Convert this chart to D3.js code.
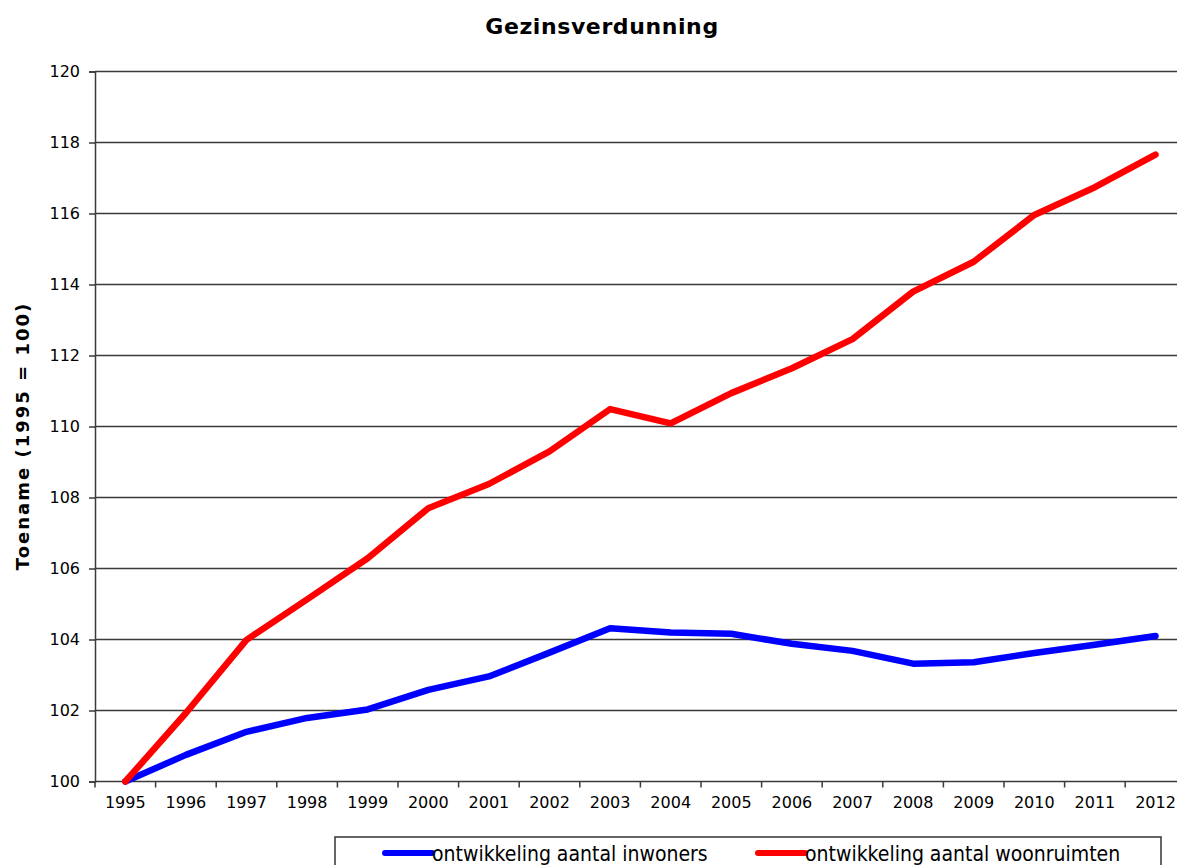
<!DOCTYPE html>
<html>
<head>
<meta charset="utf-8">
<script src="https://cdn.jsdelivr.net/npm/d3@7"></script>
<style>
  html, body { margin: 0; padding: 0; background: #fff; }
  svg { display: block; }
</style>
</head>
<body>
<svg id="chart" width="1177" height="865"></svg>
<script>
const years = ["1995","1996","1997","1998","1999","2000","2001","2002","2003","2004","2005","2006","2007","2008","2009","2010","2011","2012"];
const inwoners = [100, 100.75, 101.4, 101.79, 102.03, 102.58, 102.96, 103.63, 104.32, 104.2, 104.16, 103.88, 103.68, 103.32, 103.36, 103.62, 103.85, 104.1];
const woonruimten = [100, 101.93, 103.99, 105.13, 106.29, 107.7, 108.38, 109.3, 110.49, 110.09, 110.94, 111.64, 112.46, 113.8, 114.64, 115.96, 116.74, 117.66];
const yTicks = [100, 102, 104, 106, 108, 110, 112, 114, 116, 118, 120];
const seriesNames = ["ontwikkeling aantal inwoners", "ontwikkeling aantal woonruimten"];
const seriesColors = ["#0000ff", "#ff0000"];
const chartTitle = "Gezinsverdunning";
const yTitle = "Toename (1995 = 100)";

(function () {
const svg = d3.select("#chart");
const pLeft = 95, pTop = 71.5, pBottom = 781.5, bandW = 60.6;
const x = d3.scaleBand().domain(years).range([pLeft, pLeft + bandW * years.length]).padding(0);
const y = d3.scaleLinear().domain([100, 120]).range([pBottom, pTop]);
const font = "'DejaVu Sans', Verdana, sans-serif";

// gridlines
svg.append("g").selectAll("line").data(yTicks.filter(d => d > 100)).join("line")
  .attr("x1", pLeft).attr("x2", 1177)
  .attr("y1", d => y(d)).attr("y2", d => y(d))
  .attr("stroke", "#3a3a3a").attr("stroke-width", 1.5);

// y axis
const yAxis = svg.append("g").attr("transform", `translate(${pLeft},0)`)
  .call(d3.axisLeft(y).tickValues(yTicks).tickSize(6).tickPadding(9).tickFormat(d3.format("d")));
yAxis.select(".domain").attr("stroke", "#3a3a3a").attr("stroke-width", 1.5);
yAxis.selectAll(".tick line").attr("stroke", "#3a3a3a").attr("stroke-width", 1.5);
yAxis.selectAll("text").attr("font-family", font).attr("font-size", 16).attr("fill", "#000");

// x axis
const xAxis = svg.append("g").attr("transform", `translate(0,${pBottom})`)
  .call(d3.axisBottom(x).tickSize(0).tickPadding(15));
xAxis.select(".domain").remove();
xAxis.selectAll("text").attr("font-family", font).attr("font-size", 16).attr("fill", "#000");
svg.append("line").attr("x1", pLeft).attr("x2", 1177).attr("y1", pBottom).attr("y2", pBottom)
  .attr("stroke", "#3a3a3a").attr("stroke-width", 1.5);
// x tick marks at band boundaries
svg.append("g").selectAll("line").data(years).join("line")
  .attr("x1", d => x(d)).attr("x2", d => x(d))
  .attr("y1", pBottom).attr("y2", pBottom + 6)
  .attr("stroke", "#3a3a3a").attr("stroke-width", 1.5);

// lines
const line = d3.line().x((d, i) => x(years[i]) + x.bandwidth() / 2).y(d => y(d));
[inwoners, woonruimten].forEach((s, k) => {
  svg.append("path").datum(s).attr("d", line)
    .attr("fill", "none").attr("stroke", seriesColors[k])
    .attr("stroke-width", 6.5).attr("stroke-linejoin", "round").attr("stroke-linecap", "round");
});

// title
svg.append("text").attr("x", 602).attr("y", 34).attr("text-anchor", "middle")
  .attr("font-family", font).attr("font-weight", "bold").attr("font-size", 22)
  .attr("letter-spacing", 0.6).text(chartTitle);

// y title
svg.append("text").attr("transform", "translate(29,436) rotate(-90)").attr("text-anchor", "middle")
  .attr("font-family", font).attr("font-weight", "bold").attr("font-size", 18)
  .attr("letter-spacing", 2).text(yTitle);

// legend
const lg = svg.append("g");
lg.append("rect").attr("x", 335).attr("y", 837).attr("width", 826).attr("height", 40)
  .attr("fill", "#fff").attr("stroke", "#333").attr("stroke-width", 1.5);
const legX = [385, 758];
seriesNames.forEach((n, k) => {
  lg.append("line").attr("x1", legX[k]).attr("x2", legX[k] + 47).attr("y1", 853).attr("y2", 853)
    .attr("stroke", seriesColors[k]).attr("stroke-width", 6).attr("stroke-linecap", "round");
  lg.append("text").attr("x", legX[k] + 47).attr("y", 861)
    .attr("font-family", "'DejaVu Sans Condensed', 'DejaVu Sans', sans-serif").attr("font-stretch", "condensed")
    .attr("font-size", 21).text(n);
});
})();
</script>
</body>
</html>
